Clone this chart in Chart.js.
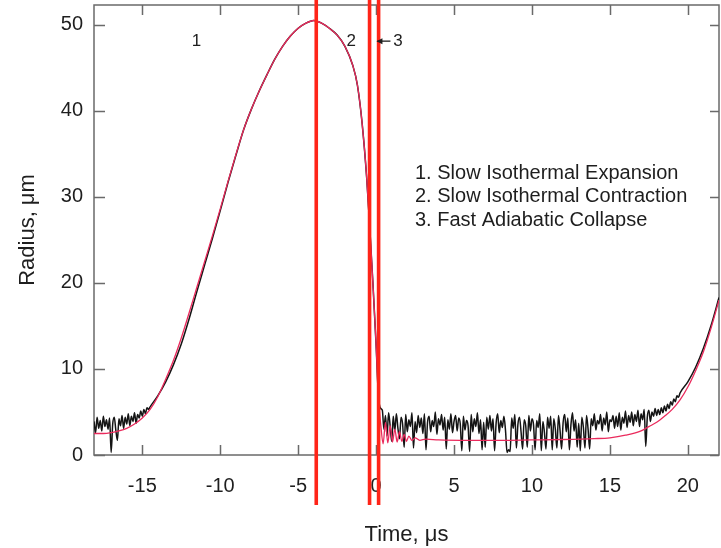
<!DOCTYPE html>
<html><head><meta charset="utf-8">
<script src="https://cdn.jsdelivr.net/npm/chart.js@4.4.1/dist/chart.umd.min.js"></script>
<style>html,body{margin:0;padding:0;background:#fff;overflow:hidden}</style>
</head><body>
<canvas id="c" width="721" height="548"></canvas>
<script>
// ---------- data ----------
const xTicks = [-15, -10, -5, 0, 5, 10, 15, 20];
const yTicks = [0, 10, 20, 30, 40, 50];
const phaseBoundaries = [-3.84, -0.42, 0.16];
const phaseLabels = ['1', '2', '3'];
const phaseNames = ['1. Slow Isothermal Expansion', '2. Slow Isothermal Contraction', '3. Fast Adiabatic Collapse'];

// fitted model (smooth curve)
const fitTime = [-18.1, -17.5, -17, -16.5, -16, -15.5, -15, -14.5, -14, -13.5, -13, -12.5, -12, -11.5, -11, -10.5, -10, -9.5, -9, -8.5, -8, -7.5, -7, -6.5, -6, -5.5, -5, -4.5, -4, -3.5, -3, -2.5, -2, -1.5, -1.2, -0.9, -0.6, -0.4, -0.2, 0, 0.15, 0.3, 0.45, 0.6, 0.75, 0.9, 1.05, 1.2, 1.35, 1.5, 1.65, 1.8, 1.95, 2.1, 2.3, 2.5, 2.8, 3.2, 4, 6, 8, 10, 12, 14, 15, 16, 17, 17.5, 18, 18.5, 19, 19.5, 20, 20.5, 21, 21.5, 22];
const fitRadius = [2.5, 2.5, 2.6, 2.8, 3.1, 3.6, 4.3, 5.3, 6.8, 8.8, 11.0, 13.6, 16.5, 19.5, 22.5, 25.5, 28.6, 31.8, 34.9, 37.8, 40.2, 42.3, 44.2, 46.0, 47.5, 48.7, 49.6, 50.2, 50.5, 50.2, 49.6, 48.8, 47.5, 45.3, 43.0, 38.6, 32.1, 26.2, 19.8, 12.8, 6.6, 3.5, 1.3, 3.8, 1.4, 3.4, 1.5, 3.0, 1.5, 2.7, 1.6, 2.4, 1.6, 2.2, 1.7, 2.0, 1.7, 1.85, 1.75, 1.7, 1.7, 1.75, 1.8, 1.9, 2.0, 2.3, 2.8, 3.3, 3.8, 4.5, 5.3, 6.4, 7.9, 9.8, 12.0, 14.8, 18.0];

// measured radius, uniformly sampled before the expansion (start -18.1, step 0.1)
const measLeftStart = -18.1;
const measStep = 0.1;
const measLeftRadius = [3.9, 2.6, 4.4, 3.1, 4.0, 2.8, 4.5, 3.3, 4.1, 3.0, 4.3, 0.3, 3.6, 4.4, 2.9, 1.7, 4.2, 3.4, 4.6, 3.1, 4.4, 3.6, 4.8, 3.4, 4.5, 3.9, 4.9, 3.7, 4.7, 4.3, 5.1, 4.5, 5.3, 4.8, 5.5, 5.3];
// measured radius during expansion / contraction / collapse
const measRiseTime = [-14.5, -14, -13.5, -13, -12.5, -12, -11.5, -11, -10.5, -10, -9.5, -9, -8.5, -8, -7.5, -7, -6.5, -6, -5.5, -5, -4.5, -4, -3.5, -3, -2.5, -2, -1.5, -1.2, -0.9, -0.6, -0.4, -0.2, 0, 0.15, 0.3];
const measRiseRadius = [5.6, 6.9, 8.5, 10.5, 12.9, 15.8, 19.0, 22.1, 25.2, 28.4, 31.7, 34.8, 37.8, 40.2, 42.3, 44.2, 46.0, 47.5, 48.7, 49.6, 50.2, 50.5, 50.2, 49.6, 48.8, 47.5, 45.3, 43.0, 38.6, 32.1, 26.2, 19.8, 12.8, 6.8, 5.4];
// measured radius after collapse, uniformly sampled (start 0.4, step 0.1)
const measFlatStart = 0.4;
const measFlatRadius = [
  5.2, 3.0, 4.6, 2.2, 4.9, 3.4, 1.6, 4.5, 2.8, 4.8,
  3.1, 1.9, 4.4, 3.6, 0.9, 4.7, 2.7, 4.1, 3.3, 4.9,
  0.8, 3.9, 2.6, 4.6, 3.2, 4.3, 2.5, 4.8, 0.6, 3.8,
  4.5, 2.7, 4.0, 3.3, 5.0, 2.4, 4.2, 3.5, 4.7, 2.9,
  4.4, 0.7, 4.1, 3.0, 4.8, 2.6, 3.9, 4.6, 2.8, 4.3,
  3.6, 0.5, 4.5, 2.9, 4.0, 3.4, 0.4, 4.7, 2.7, 4.2,
  3.3, 4.9, 2.5, 4.1, 0.6, 3.8, 0.9, 4.4, 3.0, 4.6,
  2.8, 4.2, 0.5, 3.7, 4.8, 2.6, 4.0, 3.2, 4.5, 2.9,
  0.3, 0.6, 0.4, 4.3, 3.1, 4.7, 0.8, 3.6, 4.4, 2.7,
  0.7, 4.1, 3.4, 0.9, 4.6, 2.8, 4.2, 3.5, 0.6, 4.0,
  3.2, 4.8, 0.5, 3.9, 2.6, 0.7, 4.4, 3.1, 4.5, 0.6,
  4.2, 3.0, 0.8, 4.6, 2.9, 0.7, 3.8, 4.7, 2.7, 4.3,
  0.6, 3.5, 4.9, 2.8, 4.1, 0.9, 3.7, 0.5, 4.4, 3.2,
  0.8, 4.6, 3.0, 0.7, 4.2, 3.4, 4.8, 2.9, 4.0, 3.6,
  4.7, 2.8, 4.3, 3.5, 5.0, 2.7, 4.1, 3.9, 4.6, 3.1,
  4.5, 3.3, 4.9, 2.9, 4.4, 3.7, 5.1, 3.2, 4.6, 3.8,
  5.0, 3.4, 4.7, 3.9, 5.2, 3.3, 4.8, 4.1, 5.3, 1.0,
  4.4, 5.2, 3.9, 5.0, 4.5, 5.4, 4.6, 5.3, 4.7, 5.5,
  4.9, 5.7, 5.1, 5.9, 5.4, 6.2, 5.8, 6.5, 6.2, 6.9,
  6.7, 7.2
];
const measEndTime = [20, 20.5, 21, 21.5, 22];
const measEndRadius = [8.5, 10.2, 12.4, 15.1, 18.3];

// ---------- build datasets ----------
const fitData = fitTime.map((t, i) => ({x: t, y: fitRadius[i]}));
const measData = [];
measLeftRadius.forEach((r, i) => measData.push({x: +(measLeftStart + measStep * i).toFixed(2), y: r}));
measRiseTime.forEach((t, i) => measData.push({x: t, y: measRiseRadius[i]}));
measFlatRadius.forEach((r, i) => measData.push({x: +(measFlatStart + measStep * i).toFixed(2), y: r}));
measEndTime.forEach((t, i) => measData.push({x: t, y: measEndRadius[i]}));

const FONT = 'Liberation Sans, Arial, Helvetica, sans-serif';
const TXT = '#1e1e1e';
const AX = '#6a6a6a';

const framePlugin = {
  id: 'frame',
  beforeDatasetsDraw(chart) {
    const {ctx, chartArea: a, scales: {x, y}} = chart;
    ctx.save();
    ctx.strokeStyle = AX;
    ctx.lineWidth = 1.5;
    ctx.strokeRect(a.left, a.top, a.right - a.left, a.bottom - a.top);
    ctx.beginPath();
    xTicks.forEach(v => {
      const px = Math.round(x.getPixelForValue(v)) + 0.5;
      ctx.moveTo(px, a.bottom); ctx.lineTo(px, a.bottom - 10);
      ctx.moveTo(px, a.top); ctx.lineTo(px, a.top + 10);
    });
    yTicks.forEach(v => {
      const py = Math.round(y.getPixelForValue(v)) + 0.5;
      ctx.moveTo(a.left, py); ctx.lineTo(a.left + 11, py);
      ctx.moveTo(a.right, py); ctx.lineTo(a.right - 9, py);
    });
    ctx.stroke();
    ctx.restore();
  },
  afterDraw(chart) {
    const {ctx, chartArea: a, scales: {x, y}} = chart;
    ctx.save();
    // phase boundaries
    ctx.strokeStyle = '#ff2418';
    ctx.lineWidth = 3.6;
    const yTop = y.getPixelForValue(52.9), yBot = y.getPixelForValue(-5.8);
    phaseBoundaries.forEach(t => {
      const px = x.getPixelForValue(t);
      ctx.beginPath(); ctx.moveTo(px, yTop); ctx.lineTo(px, yBot); ctx.stroke();
    });
    // phase labels
    ctx.fillStyle = TXT;
    ctx.font = '17px ' + FONT;
    ctx.textAlign = 'center';
    ctx.textBaseline = 'middle';
    const ly = y.getPixelForValue(48.1);
    ctx.fillText(phaseLabels[0], x.getPixelForValue(-11.53), ly);
    ctx.fillText(phaseLabels[1], x.getPixelForValue(-1.59), ly);
    ctx.fillText(phaseLabels[2], x.getPixelForValue(1.4), ly);
    // arrow for label 3
    const ax0 = x.getPixelForValue(0.02), ax1 = x.getPixelForValue(0.92);
    ctx.strokeStyle = TXT; ctx.lineWidth = 1.3;
    ctx.beginPath(); ctx.moveTo(ax0 + 1, ly); ctx.lineTo(ax1, ly); ctx.stroke();
    ctx.beginPath(); ctx.moveTo(ax0, ly); ctx.lineTo(ax0 + 6, ly - 3); ctx.lineTo(ax0 + 6, ly + 3); ctx.closePath(); ctx.fill();
    // phase description text
    ctx.font = '20px ' + FONT;
    ctx.textAlign = 'left';
    phaseNames.forEach((s, i) => ctx.fillText(s, a.left + 321, a.top + 168 + i * 23.6));
    ctx.restore();
  }
};

new Chart(document.getElementById('c'), {
  type: 'scatter',
  data: {datasets: [
    {data: fitData, showLine: true, borderColor: '#ea2a5c', borderWidth: 1.3, pointRadius: 0, cubicInterpolationMode: 'monotone'},
    {data: measData, showLine: true, borderColor: '#141414', borderWidth: 1.5, pointRadius: 0, cubicInterpolationMode: 'monotone'}
  ]},
  options: {
    responsive: false, animation: false, devicePixelRatio: 1,
    layout: {padding: {top: 5, right: 2, left: 0, bottom: 0}},
    plugins: {legend: {display: false}, tooltip: {enabled: false}},
    scales: {
      x: {
        type: 'linear', min: -18.1, max: 22,
        afterBuildTicks: s => { s.ticks = xTicks.map(v => ({value: v})); },
        grid: {display: false, drawTicks: false}, border: {display: false},
        ticks: {padding: 19, color: TXT, font: {family: FONT, size: 20}, maxRotation: 0, autoSkip: false, callback: v => String(v)},
        title: {display: true, text: 'Time, μs', color: TXT, font: {family: FONT, size: 22}, padding: {top: 0, bottom: 0}},
        afterFit: s => { s.height = 93; s.paddingLeft = 0; s.paddingRight = 0; }
      },
      y: {
        type: 'linear', min: 0, max: 52.3,
        afterBuildTicks: s => { s.ticks = yTicks.map(v => ({value: v})); },
        grid: {display: false, drawTicks: false}, border: {display: false},
        ticks: {padding: 11, color: TXT, font: {family: FONT, size: 20}, callback: v => String(v)},
        title: {display: true, text: 'Radius, μm', color: TXT, font: {family: FONT, size: 22}, padding: {top: 15, bottom: 0}},
        afterFit: s => { s.width = 94; s.paddingTop = 0; s.paddingBottom = 0; }
      }
    }
  },
  plugins: [framePlugin]
});
</script>
</body></html>
